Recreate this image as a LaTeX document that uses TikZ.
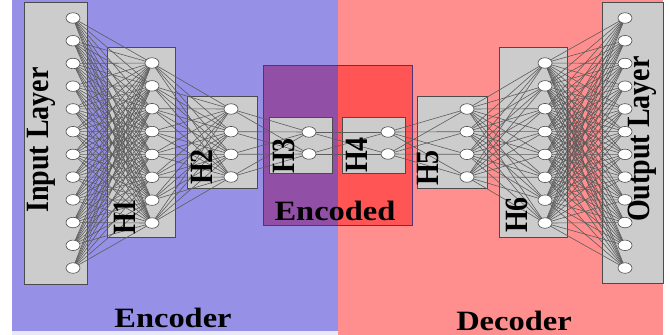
\documentclass[tikz,border=0pt]{standalone}
\usepackage{fontspec}
\setmainfont{Liberation Serif}
\usetikzlibrary{shapes.geometric}

\pgfdeclarelayer{back}
\pgfdeclarelayer{boxes}
\pgfdeclarelayer{edges}
\pgfsetlayers{back,boxes,edges,main}

\definecolor{encbg}{RGB}{150,145,230}
\definecolor{encstrip}{RGB}{232,232,248}
\definecolor{decbg}{RGB}{255,143,143}
\definecolor{encmid}{RGB}{145,80,166}
\definecolor{decmid}{RGB}{255,85,85}
\definecolor{midline}{RGB}{75,55,120}
\definecolor{layerfill}{RGB}{204,204,204}
\definecolor{layerline}{RGB}{75,75,75}
\definecolor{wirecol}{RGB}{92,92,92}

\tikzset{
  neuron/.style={ellipse, draw=layerline, fill=white, line width=0.6pt,
    minimum width=14pt, minimum height=10.5pt, inner sep=0pt},
  layerbox/.style={draw=layerline, fill=layerfill, line width=0.8pt},
  wire/.style={draw=wirecol, line width=0.6pt},
  vlabel/.style={rotate=90, inner sep=0pt, font=\bfseries\fontsize{28}{30}\selectfont},
  hlabel/.style={inner sep=0pt, font=\bfseries\fontsize{28}{30}\selectfont},
}
% glyphs are set a little wider than tall
\newcommand\hwide[1]{\scalebox{1.16}[1]{#1}}
\newcommand\vwide[1]{\scalebox{1}[1.16]{#1}}

\begin{document}
\begin{tikzpicture}[x=1pt,y=-1pt]
\useasboundingbox (0,0) rectangle (670,335);

% encoder / decoder halves
\begin{pgfonlayer}{back}
  \fill[white] (0,0) rectangle (670,335);
  \fill[encbg] (12,0) rectangle (338,331);
  \fill[encstrip] (12,331) rectangle (338,335);
  \fill[decbg] (338,0) rectangle (663,335);
  % encoded (bottleneck) region
  \fill[encmid] (263,65) rectangle (338,225);
  \fill[decmid] (338,65) rectangle (412,225);
  \draw[midline, line width=0.8pt] (263,65) rectangle (412,225);
\end{pgfonlayer}

% layer boxes
\begin{pgfonlayer}{boxes}
  \draw[layerbox] (24,2) rectangle (87,284);
  \draw[layerbox] (107,47) rectangle (175,237);
  \draw[layerbox] (187,96) rectangle (257,188);
  \draw[layerbox] (269,117) rectangle (332,173);
  \draw[layerbox] (342,117) rectangle (405,173);
  \draw[layerbox] (417,96) rectangle (487,188);
  \draw[layerbox] (499,47) rectangle (567,237);
  \draw[layerbox] (602,2) rectangle (663,283);
\end{pgfonlayer}

% neurons of every layer
\foreach \lname/\lx/\cnt/\ystart/\dy in {
    L0/73/12/18/22.73, L1/152/8/63/22.86, L2/231/4/109/22.67,
    L3/309/2/132/22, L4/388/2/132/22, L5/467/4/109/22.67,
    L6/545/8/63/22.86, L7/625/12/18/22.73}{
  \foreach \i in {1,...,\cnt}
    \node[neuron] (\lname-\i) at (\lx, {\ystart+(\i-1)*\dy}) {};
}

% full connections between consecutive layers
\begin{pgfonlayer}{edges}
\foreach \la/\na/\lb/\nb in {
    L0/12/L1/8, L1/8/L2/4, L2/4/L3/2, L3/2/L4/2,
    L4/2/L5/4, L5/4/L6/8, L6/8/L7/12}{
  \foreach \i in {1,...,\na}
    \foreach \j in {1,...,\nb}
      \draw[wire] (\la-\i.center) -- (\lb-\j.center);
}
\end{pgfonlayer}

% layer labels
\node[vlabel] (tin)  at (41,140)  {\vwide{Input Layer}};
\node[vlabel] (tout) at (642,139) {\vwide{Output Layer}};
\node[vlabel] (th1) at (125,217) {\vwide{H1}};
\node[vlabel] (th2) at (202,167) {\vwide{H2}};
\node[vlabel] (th3) at (284,156) {\vwide{H3}};
\node[vlabel] (th4) at (357,155) {\vwide{H4}};
\node[vlabel] (th5) at (428,168) {\vwide{H5}};
\node[vlabel] (th6) at (517,215) {\vwide{H6}};

% region titles
\node[hlabel, anchor=base] (tenc)  at (335,220) {\hwide{Encoded}};
\node[hlabel, anchor=base] (tencr) at (173,327) {\hwide{Encoder}};
\node[hlabel, anchor=base] (tdec)  at (514,330) {\hwide{Decoder}};
\end{tikzpicture}
\end{document}
